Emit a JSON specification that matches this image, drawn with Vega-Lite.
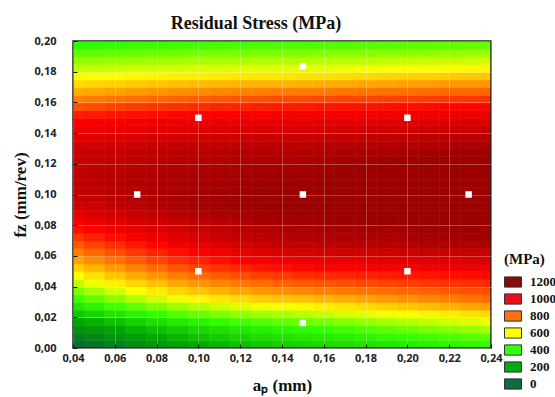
{
"$schema":"https://vega.github.io/schema/vega-lite/v6.json",
"width":418,"height":307,
"autosize":{"type":"none"},
"padding":{"left":73,"top":41,"right":64,"bottom":49},
"background":"white",
"title":{"text":"Residual Stress (MPa)","font":"Liberation Serif","fontSize":18,"fontWeight":"bold","color":"#111","dx":-26,"offset":2},
"config":{"view":{"stroke":null}},
"datasets":{"grid":[
{"a":0.035,"f":0,"s":0},{"a":0.045,"f":0,"s":31},{"a":0.055,"f":0,"s":72},{"a":0.065,"f":0,"s":112},{"a":0.075,"f":0,"s":146},{"a":0.085,"f":0,"s":180},{"a":0.095,"f":0,"s":207},{"a":0.105,"f":0,"s":234},{"a":0.115,"f":0,"s":254},{"a":0.125,"f":0,"s":274},{"a":0.135,"f":0,"s":288},{"a":0.145,"f":0,"s":301},{"a":0.155,"f":0,"s":312},{"a":0.165,"f":0,"s":322},{"a":0.175,"f":0,"s":333},{"a":0.185,"f":0,"s":343},{"a":0.195,"f":0,"s":354},{"a":0.205,"f":0,"s":364},{"a":0.215,"f":0,"s":375},{"a":0.225,"f":0,"s":385},{"a":0.235,"f":0,"s":396},
{"a":0.035,"f":0.005,"s":56},{"a":0.045,"f":0.005,"s":94},{"a":0.055,"f":0.005,"s":132},{"a":0.065,"f":0.005,"s":169},{"a":0.075,"f":0.005,"s":201},{"a":0.085,"f":0.005,"s":232},{"a":0.095,"f":0.005,"s":257},{"a":0.105,"f":0.005,"s":282},{"a":0.115,"f":0.005,"s":301},{"a":0.125,"f":0.005,"s":319},{"a":0.135,"f":0.005,"s":332},{"a":0.145,"f":0.005,"s":344},{"a":0.155,"f":0.005,"s":355},{"a":0.165,"f":0.005,"s":366},{"a":0.175,"f":0.005,"s":378},{"a":0.185,"f":0.005,"s":389},{"a":0.195,"f":0.005,"s":400},{"a":0.205,"f":0.005,"s":411},{"a":0.215,"f":0.005,"s":422},{"a":0.225,"f":0.005,"s":433},{"a":0.235,"f":0.005,"s":444},
{"a":0.035,"f":0.01,"s":122},{"a":0.045,"f":0.01,"s":156},{"a":0.055,"f":0.01,"s":191},{"a":0.065,"f":0.01,"s":225},{"a":0.075,"f":0.01,"s":254},{"a":0.085,"f":0.01,"s":283},{"a":0.095,"f":0.01,"s":306},{"a":0.105,"f":0.01,"s":329},{"a":0.115,"f":0.01,"s":347},{"a":0.125,"f":0.01,"s":364},{"a":0.135,"f":0.01,"s":376},{"a":0.145,"f":0.01,"s":387},{"a":0.155,"f":0.01,"s":401},{"a":0.165,"f":0.01,"s":415},{"a":0.175,"f":0.01,"s":430},{"a":0.185,"f":0.01,"s":444},{"a":0.195,"f":0.01,"s":458},{"a":0.205,"f":0.01,"s":472},{"a":0.215,"f":0.01,"s":486},{"a":0.225,"f":0.01,"s":500},{"a":0.235,"f":0.01,"s":514},
{"a":0.035,"f":0.015,"s":189},{"a":0.045,"f":0.015,"s":223},{"a":0.055,"f":0.015,"s":258},{"a":0.065,"f":0.015,"s":292},{"a":0.075,"f":0.015,"s":321},{"a":0.085,"f":0.015,"s":350},{"a":0.095,"f":0.015,"s":373},{"a":0.105,"f":0.015,"s":396},{"a":0.115,"f":0.015,"s":414},{"a":0.125,"f":0.015,"s":431},{"a":0.135,"f":0.015,"s":443},{"a":0.145,"f":0.015,"s":454},{"a":0.155,"f":0.015,"s":468},{"a":0.165,"f":0.015,"s":482},{"a":0.175,"f":0.015,"s":497},{"a":0.185,"f":0.015,"s":511},{"a":0.195,"f":0.015,"s":525},{"a":0.205,"f":0.015,"s":539},{"a":0.215,"f":0.015,"s":553},{"a":0.225,"f":0.015,"s":567},{"a":0.235,"f":0.015,"s":581},
{"a":0.035,"f":0.02,"s":266},{"a":0.045,"f":0.02,"s":300},{"a":0.055,"f":0.02,"s":335},{"a":0.065,"f":0.02,"s":369},{"a":0.075,"f":0.02,"s":398},{"a":0.085,"f":0.02,"s":427},{"a":0.095,"f":0.02,"s":450},{"a":0.105,"f":0.02,"s":473},{"a":0.115,"f":0.02,"s":491},{"a":0.125,"f":0.02,"s":508},{"a":0.135,"f":0.02,"s":520},{"a":0.145,"f":0.02,"s":531},{"a":0.155,"f":0.02,"s":546},{"a":0.165,"f":0.02,"s":560},{"a":0.175,"f":0.02,"s":574},{"a":0.185,"f":0.02,"s":588},{"a":0.195,"f":0.02,"s":603},{"a":0.205,"f":0.02,"s":617},{"a":0.215,"f":0.02,"s":631},{"a":0.225,"f":0.02,"s":645},{"a":0.235,"f":0.02,"s":659},
{"a":0.035,"f":0.025,"s":342},{"a":0.045,"f":0.025,"s":377},{"a":0.055,"f":0.025,"s":412},{"a":0.065,"f":0.025,"s":447},{"a":0.075,"f":0.025,"s":476},{"a":0.085,"f":0.025,"s":505},{"a":0.095,"f":0.025,"s":528},{"a":0.105,"f":0.025,"s":551},{"a":0.115,"f":0.025,"s":569},{"a":0.125,"f":0.025,"s":586},{"a":0.135,"f":0.025,"s":598},{"a":0.145,"f":0.025,"s":609},{"a":0.155,"f":0.025,"s":625},{"a":0.165,"f":0.025,"s":641},{"a":0.175,"f":0.025,"s":657},{"a":0.185,"f":0.025,"s":673},{"a":0.195,"f":0.025,"s":689},{"a":0.205,"f":0.025,"s":704},{"a":0.215,"f":0.025,"s":720},{"a":0.225,"f":0.025,"s":736},{"a":0.235,"f":0.025,"s":752},
{"a":0.035,"f":0.03,"s":409},{"a":0.045,"f":0.03,"s":447},{"a":0.055,"f":0.03,"s":485},{"a":0.065,"f":0.03,"s":523},{"a":0.075,"f":0.03,"s":555},{"a":0.085,"f":0.03,"s":586},{"a":0.095,"f":0.03,"s":612},{"a":0.105,"f":0.03,"s":637},{"a":0.115,"f":0.03,"s":656},{"a":0.125,"f":0.03,"s":675},{"a":0.135,"f":0.03,"s":688},{"a":0.145,"f":0.03,"s":700},{"a":0.155,"f":0.03,"s":715},{"a":0.165,"f":0.03,"s":729},{"a":0.175,"f":0.03,"s":744},{"a":0.185,"f":0.03,"s":759},{"a":0.195,"f":0.03,"s":774},{"a":0.205,"f":0.03,"s":788},{"a":0.215,"f":0.03,"s":803},{"a":0.225,"f":0.03,"s":817},{"a":0.235,"f":0.03,"s":832},
{"a":0.035,"f":0.035,"s":472},{"a":0.045,"f":0.035,"s":513},{"a":0.055,"f":0.035,"s":555},{"a":0.065,"f":0.035,"s":596},{"a":0.075,"f":0.035,"s":631},{"a":0.085,"f":0.035,"s":666},{"a":0.095,"f":0.035,"s":694},{"a":0.105,"f":0.035,"s":722},{"a":0.115,"f":0.035,"s":743},{"a":0.125,"f":0.035,"s":763},{"a":0.135,"f":0.035,"s":777},{"a":0.145,"f":0.035,"s":791},{"a":0.155,"f":0.035,"s":801},{"a":0.165,"f":0.035,"s":811},{"a":0.175,"f":0.035,"s":822},{"a":0.185,"f":0.035,"s":832},{"a":0.195,"f":0.035,"s":842},{"a":0.205,"f":0.035,"s":852},{"a":0.215,"f":0.035,"s":862},{"a":0.225,"f":0.035,"s":872},{"a":0.235,"f":0.035,"s":882},
{"a":0.035,"f":0.04,"s":538},{"a":0.045,"f":0.04,"s":580},{"a":0.055,"f":0.04,"s":622},{"a":0.065,"f":0.04,"s":664},{"a":0.075,"f":0.04,"s":699},{"a":0.085,"f":0.04,"s":734},{"a":0.095,"f":0.04,"s":762},{"a":0.105,"f":0.04,"s":790},{"a":0.115,"f":0.04,"s":811},{"a":0.125,"f":0.04,"s":832},{"a":0.135,"f":0.04,"s":846},{"a":0.145,"f":0.04,"s":860},{"a":0.155,"f":0.04,"s":869},{"a":0.165,"f":0.04,"s":877},{"a":0.175,"f":0.04,"s":886},{"a":0.185,"f":0.04,"s":894},{"a":0.195,"f":0.04,"s":903},{"a":0.205,"f":0.04,"s":911},{"a":0.215,"f":0.04,"s":920},{"a":0.225,"f":0.04,"s":928},{"a":0.235,"f":0.04,"s":937},
{"a":0.035,"f":0.045,"s":605},{"a":0.045,"f":0.045,"s":647},{"a":0.055,"f":0.045,"s":689},{"a":0.065,"f":0.045,"s":731},{"a":0.075,"f":0.045,"s":766},{"a":0.085,"f":0.045,"s":801},{"a":0.095,"f":0.045,"s":829},{"a":0.105,"f":0.045,"s":857},{"a":0.115,"f":0.045,"s":878},{"a":0.125,"f":0.045,"s":899},{"a":0.135,"f":0.045,"s":913},{"a":0.145,"f":0.045,"s":927},{"a":0.155,"f":0.045,"s":934},{"a":0.165,"f":0.045,"s":941},{"a":0.175,"f":0.045,"s":948},{"a":0.185,"f":0.045,"s":955},{"a":0.195,"f":0.045,"s":962},{"a":0.205,"f":0.045,"s":969},{"a":0.215,"f":0.045,"s":976},{"a":0.225,"f":0.045,"s":983},{"a":0.235,"f":0.045,"s":990},
{"a":0.035,"f":0.05,"s":671},{"a":0.045,"f":0.05,"s":713},{"a":0.055,"f":0.05,"s":755},{"a":0.065,"f":0.05,"s":797},{"a":0.075,"f":0.05,"s":832},{"a":0.085,"f":0.05,"s":867},{"a":0.095,"f":0.05,"s":895},{"a":0.105,"f":0.05,"s":923},{"a":0.115,"f":0.05,"s":944},{"a":0.125,"f":0.05,"s":965},{"a":0.135,"f":0.05,"s":979},{"a":0.145,"f":0.05,"s":993},{"a":0.155,"f":0.05,"s":998},{"a":0.165,"f":0.05,"s":1002},{"a":0.175,"f":0.05,"s":1007},{"a":0.185,"f":0.05,"s":1012},{"a":0.195,"f":0.05,"s":1017},{"a":0.205,"f":0.05,"s":1021},{"a":0.215,"f":0.05,"s":1026},{"a":0.225,"f":0.05,"s":1030},{"a":0.235,"f":0.05,"s":1035},
{"a":0.035,"f":0.055,"s":741},{"a":0.045,"f":0.055,"s":780},{"a":0.055,"f":0.055,"s":819},{"a":0.065,"f":0.055,"s":858},{"a":0.075,"f":0.055,"s":891},{"a":0.085,"f":0.055,"s":923},{"a":0.095,"f":0.055,"s":949},{"a":0.105,"f":0.055,"s":975},{"a":0.115,"f":0.055,"s":995},{"a":0.125,"f":0.055,"s":1014},{"a":0.135,"f":0.055,"s":1027},{"a":0.145,"f":0.055,"s":1040},{"a":0.155,"f":0.055,"s":1044},{"a":0.165,"f":0.055,"s":1048},{"a":0.175,"f":0.055,"s":1053},{"a":0.185,"f":0.055,"s":1057},{"a":0.195,"f":0.055,"s":1061},{"a":0.205,"f":0.055,"s":1065},{"a":0.215,"f":0.055,"s":1069},{"a":0.225,"f":0.055,"s":1073},{"a":0.235,"f":0.055,"s":1077},
{"a":0.035,"f":0.06,"s":802},{"a":0.045,"f":0.06,"s":839},{"a":0.055,"f":0.06,"s":876},{"a":0.065,"f":0.06,"s":913},{"a":0.075,"f":0.06,"s":944},{"a":0.085,"f":0.06,"s":974},{"a":0.095,"f":0.06,"s":999},{"a":0.105,"f":0.06,"s":1023},{"a":0.115,"f":0.06,"s":1042},{"a":0.125,"f":0.06,"s":1060},{"a":0.135,"f":0.06,"s":1072},{"a":0.145,"f":0.06,"s":1084},{"a":0.155,"f":0.06,"s":1088},{"a":0.165,"f":0.06,"s":1092},{"a":0.175,"f":0.06,"s":1096},{"a":0.185,"f":0.06,"s":1100},{"a":0.195,"f":0.06,"s":1104},{"a":0.205,"f":0.06,"s":1108},{"a":0.215,"f":0.06,"s":1112},{"a":0.225,"f":0.06,"s":1116},{"a":0.235,"f":0.06,"s":1120},
{"a":0.035,"f":0.065,"s":859},{"a":0.045,"f":0.065,"s":894},{"a":0.055,"f":0.065,"s":929},{"a":0.065,"f":0.065,"s":964},{"a":0.075,"f":0.065,"s":994},{"a":0.085,"f":0.065,"s":1023},{"a":0.095,"f":0.065,"s":1047},{"a":0.105,"f":0.065,"s":1070},{"a":0.115,"f":0.065,"s":1088},{"a":0.125,"f":0.065,"s":1105},{"a":0.135,"f":0.065,"s":1117},{"a":0.145,"f":0.065,"s":1128},{"a":0.155,"f":0.065,"s":1132},{"a":0.165,"f":0.065,"s":1136},{"a":0.175,"f":0.065,"s":1140},{"a":0.185,"f":0.065,"s":1144},{"a":0.195,"f":0.065,"s":1148},{"a":0.205,"f":0.065,"s":1151},{"a":0.215,"f":0.065,"s":1155},{"a":0.225,"f":0.065,"s":1159},{"a":0.235,"f":0.065,"s":1163},
{"a":0.035,"f":0.07,"s":919},{"a":0.045,"f":0.07,"s":950},{"a":0.055,"f":0.07,"s":981},{"a":0.065,"f":0.07,"s":1012},{"a":0.075,"f":0.07,"s":1038},{"a":0.085,"f":0.07,"s":1064},{"a":0.095,"f":0.07,"s":1085},{"a":0.105,"f":0.07,"s":1105},{"a":0.115,"f":0.07,"s":1121},{"a":0.125,"f":0.07,"s":1136},{"a":0.135,"f":0.07,"s":1147},{"a":0.145,"f":0.07,"s":1157},{"a":0.155,"f":0.07,"s":1161},{"a":0.165,"f":0.07,"s":1165},{"a":0.175,"f":0.07,"s":1169},{"a":0.185,"f":0.07,"s":1172},{"a":0.195,"f":0.07,"s":1176},{"a":0.205,"f":0.07,"s":1180},{"a":0.215,"f":0.07,"s":1184},{"a":0.225,"f":0.07,"s":1187},{"a":0.235,"f":0.07,"s":1191},
{"a":0.035,"f":0.075,"s":978},{"a":0.045,"f":0.075,"s":1003},{"a":0.055,"f":0.075,"s":1028},{"a":0.065,"f":0.075,"s":1053},{"a":0.075,"f":0.075,"s":1074},{"a":0.085,"f":0.075,"s":1095},{"a":0.095,"f":0.075,"s":1112},{"a":0.105,"f":0.075,"s":1129},{"a":0.115,"f":0.075,"s":1142},{"a":0.125,"f":0.075,"s":1154},{"a":0.135,"f":0.075,"s":1163},{"a":0.145,"f":0.075,"s":1171},{"a":0.155,"f":0.075,"s":1175},{"a":0.165,"f":0.075,"s":1178},{"a":0.175,"f":0.075,"s":1182},{"a":0.185,"f":0.075,"s":1186},{"a":0.195,"f":0.075,"s":1190},{"a":0.205,"f":0.075,"s":1193},{"a":0.215,"f":0.075,"s":1197},{"a":0.225,"f":0.075,"s":1200},{"a":0.235,"f":0.075,"s":1204},
{"a":0.035,"f":0.08,"s":1015},{"a":0.045,"f":0.08,"s":1037},{"a":0.055,"f":0.08,"s":1059},{"a":0.065,"f":0.08,"s":1081},{"a":0.075,"f":0.08,"s":1100},{"a":0.085,"f":0.08,"s":1118},{"a":0.095,"f":0.08,"s":1133},{"a":0.105,"f":0.08,"s":1148},{"a":0.115,"f":0.08,"s":1159},{"a":0.125,"f":0.08,"s":1170},{"a":0.135,"f":0.08,"s":1178},{"a":0.145,"f":0.08,"s":1185},{"a":0.155,"f":0.08,"s":1189},{"a":0.165,"f":0.08,"s":1192},{"a":0.175,"f":0.08,"s":1196},{"a":0.185,"f":0.08,"s":1199},{"a":0.195,"f":0.08,"s":1203},{"a":0.205,"f":0.08,"s":1206},{"a":0.215,"f":0.08,"s":1210},{"a":0.225,"f":0.08,"s":1213},{"a":0.235,"f":0.08,"s":1217},
{"a":0.035,"f":0.085,"s":1050},{"a":0.045,"f":0.085,"s":1070},{"a":0.055,"f":0.085,"s":1090},{"a":0.065,"f":0.085,"s":1109},{"a":0.075,"f":0.085,"s":1125},{"a":0.085,"f":0.085,"s":1141},{"a":0.095,"f":0.085,"s":1154},{"a":0.105,"f":0.085,"s":1167},{"a":0.115,"f":0.085,"s":1177},{"a":0.125,"f":0.085,"s":1186},{"a":0.135,"f":0.085,"s":1193},{"a":0.145,"f":0.085,"s":1199},{"a":0.155,"f":0.085,"s":1203},{"a":0.165,"f":0.085,"s":1206},{"a":0.175,"f":0.085,"s":1210},{"a":0.185,"f":0.085,"s":1213},{"a":0.195,"f":0.085,"s":1217},{"a":0.205,"f":0.085,"s":1220},{"a":0.215,"f":0.085,"s":1224},{"a":0.225,"f":0.085,"s":1227},{"a":0.235,"f":0.085,"s":1231},
{"a":0.035,"f":0.09,"s":1087},{"a":0.045,"f":0.09,"s":1103},{"a":0.055,"f":0.09,"s":1120},{"a":0.065,"f":0.09,"s":1136},{"a":0.075,"f":0.09,"s":1150},{"a":0.085,"f":0.09,"s":1164},{"a":0.095,"f":0.09,"s":1175},{"a":0.105,"f":0.09,"s":1186},{"a":0.115,"f":0.09,"s":1194},{"a":0.125,"f":0.09,"s":1202},{"a":0.135,"f":0.09,"s":1208},{"a":0.145,"f":0.09,"s":1213},{"a":0.155,"f":0.09,"s":1217},{"a":0.165,"f":0.09,"s":1220},{"a":0.175,"f":0.09,"s":1224},{"a":0.185,"f":0.09,"s":1227},{"a":0.195,"f":0.09,"s":1230},{"a":0.205,"f":0.09,"s":1233},{"a":0.215,"f":0.09,"s":1237},{"a":0.225,"f":0.09,"s":1240},{"a":0.235,"f":0.09,"s":1244},
{"a":0.035,"f":0.095,"s":1109},{"a":0.045,"f":0.095,"s":1123},{"a":0.055,"f":0.095,"s":1137},{"a":0.065,"f":0.095,"s":1151},{"a":0.075,"f":0.095,"s":1163},{"a":0.085,"f":0.095,"s":1174},{"a":0.095,"f":0.095,"s":1184},{"a":0.105,"f":0.095,"s":1193},{"a":0.115,"f":0.095,"s":1200},{"a":0.125,"f":0.095,"s":1207},{"a":0.135,"f":0.095,"s":1212},{"a":0.145,"f":0.095,"s":1216},{"a":0.155,"f":0.095,"s":1221},{"a":0.165,"f":0.095,"s":1225},{"a":0.175,"f":0.095,"s":1230},{"a":0.185,"f":0.095,"s":1235},{"a":0.195,"f":0.095,"s":1240},{"a":0.205,"f":0.095,"s":1244},{"a":0.215,"f":0.095,"s":1249},{"a":0.225,"f":0.095,"s":1253},{"a":0.235,"f":0.095,"s":1258},
{"a":0.035,"f":0.1,"s":1119},{"a":0.045,"f":0.1,"s":1130},{"a":0.055,"f":0.1,"s":1142},{"a":0.065,"f":0.1,"s":1153},{"a":0.075,"f":0.1,"s":1163},{"a":0.085,"f":0.1,"s":1173},{"a":0.095,"f":0.1,"s":1181},{"a":0.105,"f":0.1,"s":1189},{"a":0.115,"f":0.1,"s":1195},{"a":0.125,"f":0.1,"s":1200},{"a":0.135,"f":0.1,"s":1204},{"a":0.145,"f":0.1,"s":1208},{"a":0.155,"f":0.1,"s":1214},{"a":0.165,"f":0.1,"s":1220},{"a":0.175,"f":0.1,"s":1226},{"a":0.185,"f":0.1,"s":1232},{"a":0.195,"f":0.1,"s":1238},{"a":0.205,"f":0.1,"s":1244},{"a":0.215,"f":0.1,"s":1250},{"a":0.225,"f":0.1,"s":1256},{"a":0.235,"f":0.1,"s":1262},
{"a":0.035,"f":0.105,"s":1128},{"a":0.045,"f":0.105,"s":1137},{"a":0.055,"f":0.105,"s":1147},{"a":0.065,"f":0.105,"s":1156},{"a":0.075,"f":0.105,"s":1164},{"a":0.085,"f":0.105,"s":1172},{"a":0.095,"f":0.105,"s":1178},{"a":0.105,"f":0.105,"s":1184},{"a":0.115,"f":0.105,"s":1189},{"a":0.125,"f":0.105,"s":1194},{"a":0.135,"f":0.105,"s":1197},{"a":0.145,"f":0.105,"s":1200},{"a":0.155,"f":0.105,"s":1206},{"a":0.165,"f":0.105,"s":1212},{"a":0.175,"f":0.105,"s":1219},{"a":0.185,"f":0.105,"s":1225},{"a":0.195,"f":0.105,"s":1231},{"a":0.205,"f":0.105,"s":1237},{"a":0.215,"f":0.105,"s":1243},{"a":0.225,"f":0.105,"s":1249},{"a":0.235,"f":0.105,"s":1255},
{"a":0.035,"f":0.11,"s":1128},{"a":0.045,"f":0.11,"s":1136},{"a":0.055,"f":0.11,"s":1145},{"a":0.065,"f":0.11,"s":1153},{"a":0.075,"f":0.11,"s":1160},{"a":0.085,"f":0.11,"s":1167},{"a":0.095,"f":0.11,"s":1173},{"a":0.105,"f":0.11,"s":1178},{"a":0.115,"f":0.11,"s":1182},{"a":0.125,"f":0.11,"s":1186},{"a":0.135,"f":0.11,"s":1189},{"a":0.145,"f":0.11,"s":1192},{"a":0.155,"f":0.11,"s":1198},{"a":0.165,"f":0.11,"s":1204},{"a":0.175,"f":0.11,"s":1211},{"a":0.185,"f":0.11,"s":1217},{"a":0.195,"f":0.11,"s":1223},{"a":0.205,"f":0.11,"s":1229},{"a":0.215,"f":0.11,"s":1235},{"a":0.225,"f":0.11,"s":1241},{"a":0.235,"f":0.11,"s":1247},
{"a":0.035,"f":0.115,"s":1120},{"a":0.045,"f":0.115,"s":1128},{"a":0.055,"f":0.115,"s":1137},{"a":0.065,"f":0.115,"s":1145},{"a":0.075,"f":0.115,"s":1152},{"a":0.085,"f":0.115,"s":1159},{"a":0.095,"f":0.115,"s":1165},{"a":0.105,"f":0.115,"s":1170},{"a":0.115,"f":0.115,"s":1174},{"a":0.125,"f":0.115,"s":1178},{"a":0.135,"f":0.115,"s":1181},{"a":0.145,"f":0.115,"s":1184},{"a":0.155,"f":0.115,"s":1191},{"a":0.165,"f":0.115,"s":1197},{"a":0.175,"f":0.115,"s":1203},{"a":0.185,"f":0.115,"s":1209},{"a":0.195,"f":0.115,"s":1216},{"a":0.205,"f":0.115,"s":1222},{"a":0.215,"f":0.115,"s":1228},{"a":0.225,"f":0.115,"s":1234},{"a":0.235,"f":0.115,"s":1240},
{"a":0.035,"f":0.12,"s":1111},{"a":0.045,"f":0.12,"s":1119},{"a":0.055,"f":0.12,"s":1127},{"a":0.065,"f":0.12,"s":1135},{"a":0.075,"f":0.12,"s":1142},{"a":0.085,"f":0.12,"s":1148},{"a":0.095,"f":0.12,"s":1154},{"a":0.105,"f":0.12,"s":1159},{"a":0.115,"f":0.12,"s":1163},{"a":0.125,"f":0.12,"s":1167},{"a":0.135,"f":0.12,"s":1170},{"a":0.145,"f":0.12,"s":1172},{"a":0.155,"f":0.12,"s":1178},{"a":0.165,"f":0.12,"s":1183},{"a":0.175,"f":0.12,"s":1189},{"a":0.185,"f":0.12,"s":1195},{"a":0.195,"f":0.12,"s":1201},{"a":0.205,"f":0.12,"s":1206},{"a":0.215,"f":0.12,"s":1212},{"a":0.225,"f":0.12,"s":1217},{"a":0.235,"f":0.12,"s":1223},
{"a":0.035,"f":0.125,"s":1105},{"a":0.045,"f":0.125,"s":1111},{"a":0.055,"f":0.125,"s":1118},{"a":0.065,"f":0.125,"s":1124},{"a":0.075,"f":0.125,"s":1130},{"a":0.085,"f":0.125,"s":1135},{"a":0.095,"f":0.125,"s":1140},{"a":0.105,"f":0.125,"s":1144},{"a":0.115,"f":0.125,"s":1148},{"a":0.125,"f":0.125,"s":1151},{"a":0.135,"f":0.125,"s":1153},{"a":0.145,"f":0.125,"s":1155},{"a":0.155,"f":0.125,"s":1160},{"a":0.165,"f":0.125,"s":1164},{"a":0.175,"f":0.125,"s":1169},{"a":0.185,"f":0.125,"s":1174},{"a":0.195,"f":0.125,"s":1179},{"a":0.205,"f":0.125,"s":1183},{"a":0.215,"f":0.125,"s":1188},{"a":0.225,"f":0.125,"s":1192},{"a":0.235,"f":0.125,"s":1197},
{"a":0.035,"f":0.13,"s":1081},{"a":0.045,"f":0.13,"s":1088},{"a":0.055,"f":0.13,"s":1096},{"a":0.065,"f":0.13,"s":1103},{"a":0.075,"f":0.13,"s":1110},{"a":0.085,"f":0.13,"s":1116},{"a":0.095,"f":0.13,"s":1121},{"a":0.105,"f":0.13,"s":1126},{"a":0.115,"f":0.13,"s":1130},{"a":0.125,"f":0.13,"s":1133},{"a":0.135,"f":0.13,"s":1136},{"a":0.145,"f":0.13,"s":1138},{"a":0.155,"f":0.13,"s":1142},{"a":0.165,"f":0.13,"s":1145},{"a":0.175,"f":0.13,"s":1149},{"a":0.185,"f":0.13,"s":1153},{"a":0.195,"f":0.13,"s":1157},{"a":0.205,"f":0.13,"s":1160},{"a":0.215,"f":0.13,"s":1164},{"a":0.225,"f":0.13,"s":1167},{"a":0.235,"f":0.13,"s":1171},
{"a":0.035,"f":0.135,"s":1056},{"a":0.045,"f":0.135,"s":1063},{"a":0.055,"f":0.135,"s":1071},{"a":0.065,"f":0.135,"s":1078},{"a":0.075,"f":0.135,"s":1085},{"a":0.085,"f":0.135,"s":1091},{"a":0.095,"f":0.135,"s":1096},{"a":0.105,"f":0.135,"s":1101},{"a":0.115,"f":0.135,"s":1105},{"a":0.125,"f":0.135,"s":1109},{"a":0.135,"f":0.135,"s":1112},{"a":0.145,"f":0.135,"s":1114},{"a":0.155,"f":0.135,"s":1118},{"a":0.165,"f":0.135,"s":1121},{"a":0.175,"f":0.135,"s":1125},{"a":0.185,"f":0.135,"s":1128},{"a":0.195,"f":0.135,"s":1132},{"a":0.205,"f":0.135,"s":1135},{"a":0.215,"f":0.135,"s":1139},{"a":0.225,"f":0.135,"s":1142},{"a":0.235,"f":0.135,"s":1146},
{"a":0.035,"f":0.14,"s":1032},{"a":0.045,"f":0.14,"s":1038},{"a":0.055,"f":0.14,"s":1045},{"a":0.065,"f":0.14,"s":1051},{"a":0.075,"f":0.14,"s":1057},{"a":0.085,"f":0.14,"s":1062},{"a":0.095,"f":0.14,"s":1066},{"a":0.105,"f":0.14,"s":1070},{"a":0.115,"f":0.14,"s":1074},{"a":0.125,"f":0.14,"s":1077},{"a":0.135,"f":0.14,"s":1079},{"a":0.145,"f":0.14,"s":1081},{"a":0.155,"f":0.14,"s":1085},{"a":0.165,"f":0.14,"s":1089},{"a":0.175,"f":0.14,"s":1093},{"a":0.185,"f":0.14,"s":1096},{"a":0.195,"f":0.14,"s":1100},{"a":0.205,"f":0.14,"s":1104},{"a":0.215,"f":0.14,"s":1108},{"a":0.225,"f":0.14,"s":1111},{"a":0.235,"f":0.14,"s":1115},
{"a":0.035,"f":0.145,"s":1008},{"a":0.045,"f":0.145,"s":1013},{"a":0.055,"f":0.145,"s":1019},{"a":0.065,"f":0.145,"s":1024},{"a":0.075,"f":0.145,"s":1029},{"a":0.085,"f":0.145,"s":1033},{"a":0.095,"f":0.145,"s":1037},{"a":0.105,"f":0.145,"s":1040},{"a":0.115,"f":0.145,"s":1043},{"a":0.125,"f":0.145,"s":1045},{"a":0.135,"f":0.145,"s":1047},{"a":0.145,"f":0.145,"s":1049},{"a":0.155,"f":0.145,"s":1052},{"a":0.165,"f":0.145,"s":1055},{"a":0.175,"f":0.145,"s":1058},{"a":0.185,"f":0.145,"s":1061},{"a":0.195,"f":0.145,"s":1064},{"a":0.205,"f":0.145,"s":1067},{"a":0.215,"f":0.145,"s":1070},{"a":0.225,"f":0.145,"s":1073},{"a":0.235,"f":0.145,"s":1076},
{"a":0.035,"f":0.15,"s":954},{"a":0.045,"f":0.15,"s":962},{"a":0.055,"f":0.15,"s":970},{"a":0.065,"f":0.15,"s":978},{"a":0.075,"f":0.15,"s":985},{"a":0.085,"f":0.15,"s":992},{"a":0.095,"f":0.15,"s":998},{"a":0.105,"f":0.15,"s":1003},{"a":0.115,"f":0.15,"s":1007},{"a":0.125,"f":0.15,"s":1011},{"a":0.135,"f":0.15,"s":1014},{"a":0.145,"f":0.15,"s":1016},{"a":0.155,"f":0.15,"s":1019},{"a":0.165,"f":0.15,"s":1021},{"a":0.175,"f":0.15,"s":1023},{"a":0.185,"f":0.15,"s":1025},{"a":0.195,"f":0.15,"s":1028},{"a":0.205,"f":0.15,"s":1030},{"a":0.215,"f":0.15,"s":1032},{"a":0.225,"f":0.15,"s":1034},{"a":0.235,"f":0.15,"s":1036},
{"a":0.035,"f":0.155,"s":874},{"a":0.045,"f":0.155,"s":885},{"a":0.055,"f":0.155,"s":897},{"a":0.065,"f":0.155,"s":908},{"a":0.075,"f":0.155,"s":918},{"a":0.085,"f":0.155,"s":927},{"a":0.095,"f":0.155,"s":935},{"a":0.105,"f":0.155,"s":943},{"a":0.115,"f":0.155,"s":949},{"a":0.125,"f":0.155,"s":954},{"a":0.135,"f":0.155,"s":958},{"a":0.145,"f":0.155,"s":962},{"a":0.155,"f":0.155,"s":966},{"a":0.165,"f":0.155,"s":970},{"a":0.175,"f":0.155,"s":974},{"a":0.185,"f":0.155,"s":977},{"a":0.195,"f":0.155,"s":981},{"a":0.205,"f":0.155,"s":985},{"a":0.215,"f":0.155,"s":989},{"a":0.225,"f":0.155,"s":992},{"a":0.235,"f":0.155,"s":996},
{"a":0.035,"f":0.16,"s":797},{"a":0.045,"f":0.16,"s":808},{"a":0.055,"f":0.16,"s":820},{"a":0.065,"f":0.16,"s":831},{"a":0.075,"f":0.16,"s":841},{"a":0.085,"f":0.16,"s":850},{"a":0.095,"f":0.16,"s":858},{"a":0.105,"f":0.16,"s":866},{"a":0.115,"f":0.16,"s":872},{"a":0.125,"f":0.16,"s":877},{"a":0.135,"f":0.16,"s":881},{"a":0.145,"f":0.16,"s":885},{"a":0.155,"f":0.16,"s":889},{"a":0.165,"f":0.16,"s":893},{"a":0.175,"f":0.16,"s":897},{"a":0.185,"f":0.16,"s":900},{"a":0.195,"f":0.16,"s":904},{"a":0.205,"f":0.16,"s":908},{"a":0.215,"f":0.16,"s":912},{"a":0.225,"f":0.16,"s":915},{"a":0.235,"f":0.16,"s":919},
{"a":0.035,"f":0.165,"s":725},{"a":0.045,"f":0.165,"s":736},{"a":0.055,"f":0.165,"s":747},{"a":0.065,"f":0.165,"s":758},{"a":0.075,"f":0.165,"s":767},{"a":0.085,"f":0.165,"s":776},{"a":0.095,"f":0.165,"s":783},{"a":0.105,"f":0.165,"s":790},{"a":0.115,"f":0.165,"s":796},{"a":0.125,"f":0.165,"s":801},{"a":0.135,"f":0.165,"s":805},{"a":0.145,"f":0.165,"s":808},{"a":0.155,"f":0.165,"s":812},{"a":0.165,"f":0.165,"s":816},{"a":0.175,"f":0.165,"s":820},{"a":0.185,"f":0.165,"s":823},{"a":0.195,"f":0.165,"s":827},{"a":0.205,"f":0.165,"s":831},{"a":0.215,"f":0.165,"s":835},{"a":0.225,"f":0.165,"s":838},{"a":0.235,"f":0.165,"s":842},
{"a":0.035,"f":0.17,"s":655},{"a":0.045,"f":0.17,"s":664},{"a":0.055,"f":0.17,"s":673},{"a":0.065,"f":0.17,"s":682},{"a":0.075,"f":0.17,"s":690},{"a":0.085,"f":0.17,"s":698},{"a":0.095,"f":0.17,"s":704},{"a":0.105,"f":0.17,"s":710},{"a":0.115,"f":0.17,"s":715},{"a":0.125,"f":0.17,"s":719},{"a":0.135,"f":0.17,"s":722},{"a":0.145,"f":0.17,"s":725},{"a":0.155,"f":0.17,"s":730},{"a":0.165,"f":0.17,"s":734},{"a":0.175,"f":0.17,"s":739},{"a":0.185,"f":0.17,"s":744},{"a":0.195,"f":0.17,"s":749},{"a":0.205,"f":0.17,"s":753},{"a":0.215,"f":0.17,"s":758},{"a":0.225,"f":0.17,"s":762},{"a":0.235,"f":0.17,"s":767},
{"a":0.035,"f":0.175,"s":588},{"a":0.045,"f":0.175,"s":595},{"a":0.055,"f":0.175,"s":602},{"a":0.065,"f":0.175,"s":609},{"a":0.075,"f":0.175,"s":615},{"a":0.085,"f":0.175,"s":621},{"a":0.095,"f":0.175,"s":626},{"a":0.105,"f":0.175,"s":630},{"a":0.115,"f":0.175,"s":634},{"a":0.125,"f":0.175,"s":637},{"a":0.135,"f":0.175,"s":640},{"a":0.145,"f":0.175,"s":642},{"a":0.155,"f":0.175,"s":648},{"a":0.165,"f":0.175,"s":653},{"a":0.175,"f":0.175,"s":659},{"a":0.185,"f":0.175,"s":664},{"a":0.195,"f":0.175,"s":669},{"a":0.205,"f":0.175,"s":674},{"a":0.215,"f":0.175,"s":680},{"a":0.225,"f":0.175,"s":685},{"a":0.235,"f":0.175,"s":691},
{"a":0.035,"f":0.18,"s":541},{"a":0.045,"f":0.18,"s":545},{"a":0.055,"f":0.18,"s":550},{"a":0.065,"f":0.18,"s":554},{"a":0.075,"f":0.18,"s":558},{"a":0.085,"f":0.18,"s":562},{"a":0.095,"f":0.18,"s":565},{"a":0.105,"f":0.18,"s":568},{"a":0.115,"f":0.18,"s":570},{"a":0.125,"f":0.18,"s":572},{"a":0.135,"f":0.18,"s":574},{"a":0.145,"f":0.18,"s":575},{"a":0.155,"f":0.18,"s":579},{"a":0.165,"f":0.18,"s":583},{"a":0.175,"f":0.18,"s":588},{"a":0.185,"f":0.18,"s":592},{"a":0.195,"f":0.18,"s":596},{"a":0.205,"f":0.18,"s":600},{"a":0.215,"f":0.18,"s":604},{"a":0.225,"f":0.18,"s":608},{"a":0.235,"f":0.18,"s":612},
{"a":0.035,"f":0.185,"s":491},{"a":0.045,"f":0.185,"s":495},{"a":0.055,"f":0.185,"s":500},{"a":0.065,"f":0.185,"s":504},{"a":0.075,"f":0.185,"s":508},{"a":0.085,"f":0.185,"s":512},{"a":0.095,"f":0.185,"s":515},{"a":0.105,"f":0.185,"s":518},{"a":0.115,"f":0.185,"s":520},{"a":0.125,"f":0.185,"s":522},{"a":0.135,"f":0.185,"s":524},{"a":0.145,"f":0.185,"s":525},{"a":0.155,"f":0.185,"s":529},{"a":0.165,"f":0.185,"s":532},{"a":0.175,"f":0.185,"s":536},{"a":0.185,"f":0.185,"s":539},{"a":0.195,"f":0.185,"s":542},{"a":0.205,"f":0.185,"s":545},{"a":0.215,"f":0.185,"s":549},{"a":0.225,"f":0.185,"s":552},{"a":0.235,"f":0.185,"s":556},
{"a":0.035,"f":0.19,"s":441},{"a":0.045,"f":0.19,"s":445},{"a":0.055,"f":0.19,"s":450},{"a":0.065,"f":0.19,"s":454},{"a":0.075,"f":0.19,"s":458},{"a":0.085,"f":0.19,"s":462},{"a":0.095,"f":0.19,"s":465},{"a":0.105,"f":0.19,"s":468},{"a":0.115,"f":0.19,"s":470},{"a":0.125,"f":0.19,"s":472},{"a":0.135,"f":0.19,"s":474},{"a":0.145,"f":0.19,"s":475},{"a":0.155,"f":0.19,"s":478},{"a":0.165,"f":0.19,"s":481},{"a":0.175,"f":0.19,"s":484},{"a":0.185,"f":0.19,"s":487},{"a":0.195,"f":0.19,"s":490},{"a":0.205,"f":0.19,"s":493},{"a":0.215,"f":0.19,"s":496},{"a":0.225,"f":0.19,"s":499},{"a":0.235,"f":0.19,"s":502},
{"a":0.035,"f":0.195,"s":391},{"a":0.045,"f":0.195,"s":395},{"a":0.055,"f":0.195,"s":400},{"a":0.065,"f":0.195,"s":404},{"a":0.075,"f":0.195,"s":408},{"a":0.085,"f":0.195,"s":412},{"a":0.095,"f":0.195,"s":415},{"a":0.105,"f":0.195,"s":418},{"a":0.115,"f":0.195,"s":420},{"a":0.125,"f":0.195,"s":422},{"a":0.135,"f":0.195,"s":424},{"a":0.145,"f":0.195,"s":425},{"a":0.155,"f":0.195,"s":428},{"a":0.165,"f":0.195,"s":430},{"a":0.175,"f":0.195,"s":433},{"a":0.185,"f":0.195,"s":436},{"a":0.195,"f":0.195,"s":439},{"a":0.205,"f":0.195,"s":441},{"a":0.215,"f":0.195,"s":444},{"a":0.225,"f":0.195,"s":446},{"a":0.235,"f":0.195,"s":449}
]},
"layer":[
{"data":{"name":"grid"},
"mark":{"type":"rect","strokeWidth":0.6,"clip":true},
"encoding":{
"x":{"field":"a","type":"quantitative","bin":{"binned":true,"step":0.01},"scale":{"domain":[0.04,0.24],"nice":false,"zero":false},
"axis":{"title":"aₚ (mm)","values":[0.04,0.06,0.08,0.1,0.12,0.14,0.16,0.18,0.2,0.22,0.24],"labelExpr":"replace(format(datum.value,'.2f'),'.',',')","labelFont":"Open Sans","labelFontSize":11,"labelFontWeight":"bold","labelColor":"#222","labelPadding":8,"labelFlush":false,"ticks":true,"tickSize":-4,"tickColor":"#111","domain":false,"grid":true,"gridColor":"#ffffff","gridOpacity":0.25,"zindex":1,"titleFont":"Liberation Serif","titleFontSize":17,"titleFontWeight":"bold","titleColor":"#111","titlePadding":14}},
"y":{"field":"f","type":"quantitative","bin":{"binned":true,"step":0.005},"scale":{"domain":[0,0.2],"nice":false,"zero":false},
"axis":{"title":"fz (mm/rev)","values":[0,0.02,0.04,0.06,0.08,0.1,0.12,0.14,0.16,0.18,0.2],"labelExpr":"replace(format(datum.value,'.2f'),'.',',')","labelFont":"Open Sans","labelFontSize":11,"labelFontWeight":"bold","labelColor":"#222","labelPadding":21,"labelFlush":false,"ticks":true,"tickSize":-4,"tickColor":"#111","domain":false,"grid":true,"gridColor":"#ffffff","gridOpacity":0.25,"zindex":1,"titleFont":"Liberation Serif","titleFontSize":17,"titleFontWeight":"bold","titleColor":"#111","titlePadding":4}},
"color":{"field":"s","type":"quantitative","scale":{"domain":[0,200,400,600,800,1000,1200],"range":["#0a6a30","#00a800","#33ff00","#ffff00","#ff8000","#ff0000","#9c0000"],"clamp":true,"interpolate":"rgb"},"legend":null},
"stroke":{"field":"s","type":"quantitative","scale":{"domain":[0,200,400,600,800,1000,1200],"range":["#0a6a30","#00a800","#33ff00","#ffff00","#ff8000","#ff0000","#9c0000"],"clamp":true,"interpolate":"rgb"},"legend":null}
}},
{"data":{"values":[{"a":0.0707,"f":0.1},{"a":0.1,"f":0.15},{"a":0.1,"f":0.05},{"a":0.15,"f":0.1837},{"a":0.15,"f":0.1},{"a":0.15,"f":0.0163},{"a":0.2,"f":0.15},{"a":0.2,"f":0.05},{"a":0.2293,"f":0.1}]},
"mark":{"type":"square","size":42,"color":"#ffffff","opacity":1,"filled":true},
"encoding":{"x":{"field":"a","type":"quantitative","title":"aₚ (mm)"},"y":{"field":"f","type":"quantitative","title":"fz (mm/rev)"}}},
{"data":{"values":[{}]},
"mark":{"type":"rect","filled":false,"stroke":"#222","strokeWidth":1.5,"fill":null},
"encoding":{}},
{"data":{"values":[{"lv":"1200"},{"lv":"1000"},{"lv":"800"},{"lv":"600"},{"lv":"400"},{"lv":"200"},{"lv":"0"}]},
"mark":{"type":"square","size":0},
"encoding":{"color":{"field":"lv","type":"nominal","scale":{"domain":["1200","1000","800","600","400","200","0"],"range":["#8a0a0a","#e8101a","#ff7010","#ffff00","#33ff11","#00aa10","#0a6e3a"]},
"legend":{"title":"(MPa)","orient":"none","legendX":431,"legendY":211,"titleFont":"Liberation Serif","titleFontSize":15,"titleFontWeight":"bold","titleColor":"#111","titlePadding":6,"labelFont":"Liberation Serif","labelFontSize":13,"labelFontWeight":"bold","labelColor":"#111","labelOffset":8,"symbolType":"M-1,-0.6H1V0.6H-1Z","symbolSize":289,"symbolStrokeColor":"#333","symbolStrokeWidth":1,"symbolOpacity":1,"rowPadding":0}}}}
],
"resolve":{"scale":{"color":"independent"}}
}
